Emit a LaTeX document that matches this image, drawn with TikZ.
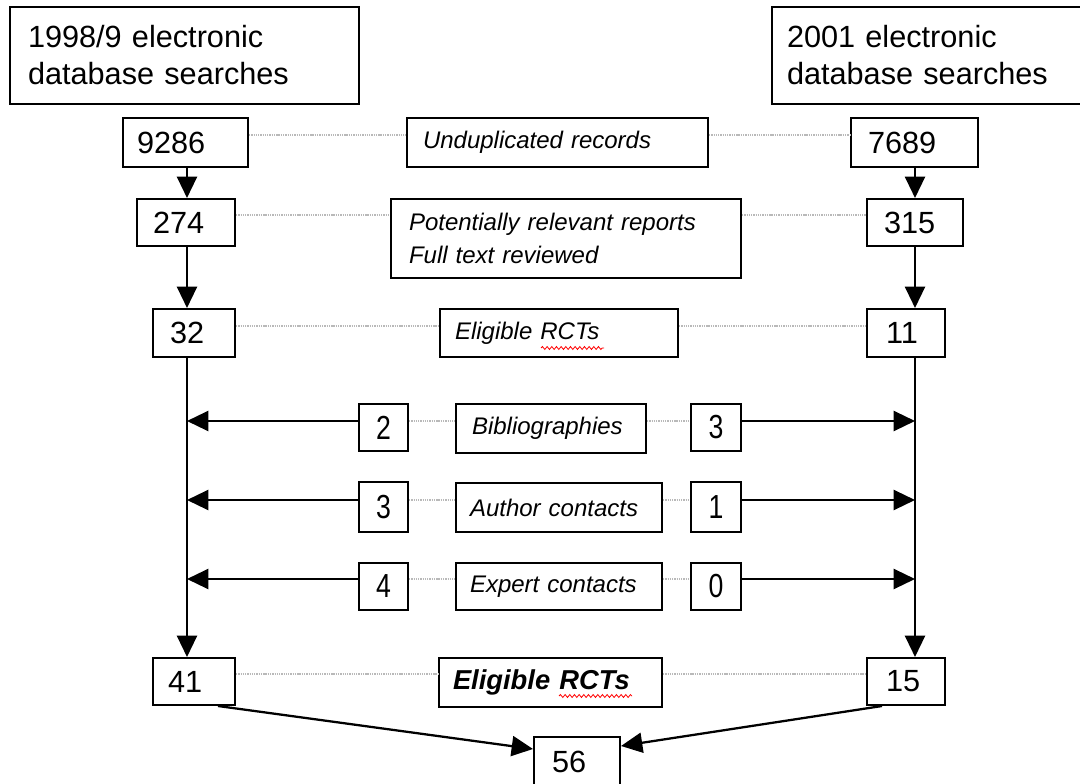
\documentclass[tikz,border=0pt]{standalone}
\usepackage{fontspec}
\setmainfont{Liberation Sans}
\newfontfamily\narrowfont[FakeStretch=0.8]{Liberation Sans}
\usetikzlibrary{arrows.meta,decorations.pathmorphing}
\begin{document}
\begin{tikzpicture}[x=0.75pt,y=-0.75pt,
  bx/.style n args={3}{draw=black, line width=1.5pt, fill=white, minimum height=#2*0.75pt, text width=(#1-2*#3)*0.75pt, inner xsep=#3*0.75pt, inner ysep=0pt, align=left},
  cb/.style 2 args={draw=black, line width=1.5pt, fill=white, minimum width=#1*0.75pt, minimum height=#2*0.75pt, inner sep=0pt, font=\narrowfont\fontsize{25}{28}\selectfont},
  big/.style={font=\fontsize{23}{27.75}\selectfont},
  num/.style={font=\fontsize{23}{26}\selectfont},
  lab/.style={font=\itshape\fontsize{18}{25}\selectfont},
  blab/.style={font=\bfseries\itshape\fontsize{20.5}{25}\selectfont},
  arr/.style={line width=1.7pt, -{Triangle[length=16pt,width=15pt]}},
  link/.style={draw=gray!55, line width=1.3pt, dash pattern=on 1pt off 0.7pt},
  squig/.style={draw=red, line width=0.6pt, decorate, decoration={snake, amplitude=1.1pt, segment length=3.5pt}}
]
\useasboundingbox[fill=white] (0,0) rectangle (1080,784);

% sources
\node[bx={349}{97}{18}, big] (srcA) at (184.5,55.5) {1998/9 electronic\\database searches};
\node[bx={318}{97}{15}, big] (srcB) at (931,55.5) {2001 electronic\\database searches};

% row 1
\node[bx={125}{49}{14}, num] (n9286) at (185.5,142.5) {9286};
\node[bx={301}{49}{16}, lab] (undup) at (557.5,142.5) {Unduplicated records};
\node[bx={127}{49}{17}, num] (n7689) at (914.5,142.5) {7689};

% row 2
\node[bx={98}{47}{16}, num] (n274) at (186,222.5) {274};
\node[bx={350}{79}{18}, lab] (pot) at (566,238.5) {Potentially relevant reports\\Full text reviewed};
\node[bx={96}{47}{17}, num] (n315) at (915,222.5) {315};

% row 3
\node[bx={82}{48}{17}, num] (n32) at (194,333) {32};
\node[bx={238}{48}{15}, lab] (elig1) at (559,333) {Eligible RCTs};
\node[bx={78}{48}{19}, num] (n11) at (906,333) {11};

% additional sources
\node[cb={49}{47}] (l2) at (383.5,427.5) {2};
\node[bx={190}{49}{16}, lab] (bib) at (551,428.5) {Bibliographies};
\node[cb={50}{47}] (r3) at (716,427.5) {3};

\node[cb={49}{50}] (l3) at (383.5,507) {3};
\node[bx={206}{49}{14}, lab] (auth) at (559,507.5) {Author contacts};
\node[cb={50}{50}] (r1) at (716,507) {1};

\node[cb={49}{47}] (l4) at (383.5,586.5) {4};
\node[bx={206}{47}{14}, lab] (expc) at (559,586.5) {Expert contacts};
\node[cb={50}{47}] (r0) at (716,586.5) {0};

% final
\node[bx={82}{47}{15}, num] (n41) at (194,681.5) {41};
\node[bx={223}{49}{14}, blab] (elig2) at (550.5,682.5) {Eligible RCTs};
\node[bx={78}{47}{19}, num] (n15) at (906,681.5) {15};
\node[bx={86}{49}{18}, num] (n56) at (577,761.5) {56};

% spell-check underlines
\draw[squig] ([shift={(102,-10)}]elig1.south west) -- ++(63,0);
\draw[squig] ([shift={(121,-12)}]elig2.south west) -- ++(73,0);

% helper coordinates
\coordinate (L) at (187,0);
\coordinate (R) at (915,0);
\coordinate (y1) at (0,135);
\coordinate (y2) at (0,215);
\coordinate (y3) at (0,326);
\coordinate (y4) at (0,421);
\coordinate (y5) at (0,500);
\coordinate (y6) at (0,579);
\coordinate (y7) at (0,674);

% dotted links
\draw[link] (n9286.east |- y1) -- (undup.west |- y1);
\draw[link] (undup.east |- y1) -- (n7689.west |- y1);
\draw[link] (n274.east |- y2) -- (pot.west |- y2);
\draw[link] (pot.east |- y2) -- (n315.west |- y2);
\draw[link] (n32.east |- y3) -- (elig1.west |- y3);
\draw[link] (elig1.east |- y3) -- (n11.west |- y3);
\draw[link] (l2.east |- y4) -- (bib.west |- y4);
\draw[link] (bib.east |- y4) -- (r3.west |- y4);
\draw[link] (l3.east |- y5) -- (auth.west |- y5);
\draw[link] (auth.east |- y5) -- (r1.west |- y5);
\draw[link] (l4.east |- y6) -- (expc.west |- y6);
\draw[link] (expc.east |- y6) -- (r0.west |- y6);
\draw[link] (n41.east |- y7) -- (elig2.west |- y7);
\draw[link] (elig2.east |- y7) -- (n15.west |- y7);

% vertical flow
\draw[arr] (n9286.south -| L) -- (n274.north -| L);
\draw[arr] (n274.south -| L) -- (n32.north -| L);
\draw[arr] (n32.south -| L) -- (n41.north -| L);
\draw[arr] (n7689.south -| R) -- (n315.north -| R);
\draw[arr] (n315.south -| R) -- (n11.north -| R);
\draw[arr] (n11.south -| R) -- (n15.north -| R);

% horizontal arrows
\draw[arr] (l2.west |- y4) -- (L |- y4);
\draw[arr] (r3.east |- y4) -- (R |- y4);
\draw[arr] (l3.west |- y5) -- (L |- y5);
\draw[arr] (r1.east |- y5) -- (R |- y5);
\draw[arr] (l4.west |- y6) -- (L |- y6);
\draw[arr] (r0.east |- y6) -- (R |- y6);

% merge
\draw[arr] ([xshift=-18*0.75pt]n41.south east) -- ([yshift=-13*0.75pt]n56.north west);
\draw[arr] ([xshift=16*0.75pt]n15.south west) -- ([yshift=-10*0.75pt]n56.north east);
\end{tikzpicture}
\end{document}
